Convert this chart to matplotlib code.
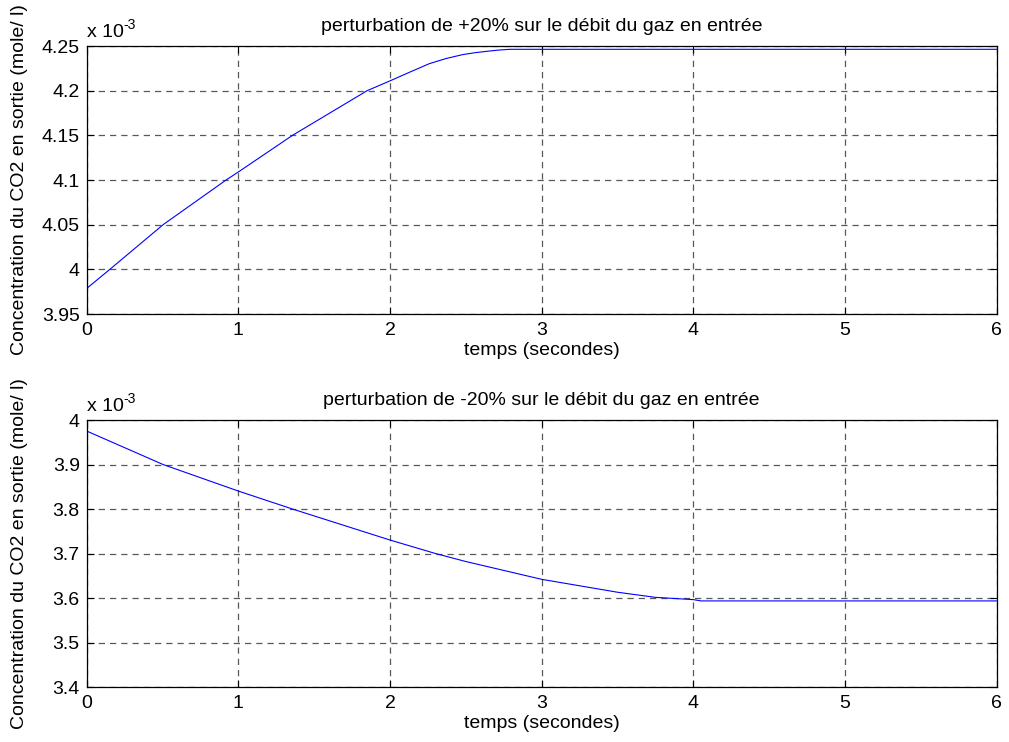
import matplotlib.pyplot as plt
from matplotlib.transforms import offset_copy

plt.rcParams['font.family'] = ['Liberation Sans', 'DejaVu Sans']

# Concentration du CO2 en sortie, en unites de 1e-3 mole/l
temps_plus = [0.0, 0.153, 0.504, 0.919, 1.0, 1.357, 1.849, 2.0, 2.12, 2.26, 2.37, 2.48,
              2.56, 2.64, 2.72, 2.79, 6.0]
conc_plus = [3.9786, 4.000, 4.050, 4.100, 4.109, 4.150, 4.200, 4.211, 4.220, 4.2303, 4.236,
             4.2404, 4.2425, 4.2441, 4.2455, 4.2463, 4.2463]

temps_moins = [0.0, 0.504, 1.0, 1.357, 2.0, 2.30, 2.5, 3.0, 3.5, 3.75, 4.0, 4.05, 6.0]
conc_moins = [3.9753, 3.900, 3.8404, 3.800, 3.7303, 3.700, 3.682, 3.642, 3.613, 3.6015,
              3.5964, 3.5935, 3.5935]

titres = ['perturbation de +20% sur le débit du gaz en entrée',
          'perturbation de -20% sur le débit du gaz en entrée']
ylims = [(3.95, 4.25), (3.4, 4.0)]
yticks = [[3.95, 4.0, 4.05, 4.1, 4.15, 4.2, 4.25], [3.4, 3.5, 3.6, 3.7, 3.8, 3.9, 4.0]]
yticklabels = [['3.95', '4', '4.05', '4.1', '4.15', '4.2', '4.25'],
               ['3.4', '3.5', '3.6', '3.7', '3.8', '3.9', '4']]

fs = 14

fig = plt.figure(figsize=(10.09, 7.42), dpi=100)
ax1 = fig.add_axes([0.0859, 0.5768, 0.9020, 0.3612])
ax2 = fig.add_axes([0.0859, 0.0741, 0.9020, 0.3598])

donnees = [(temps_plus, conc_plus), (temps_moins, conc_moins)]
for i, ax in enumerate([ax1, ax2]):
    t, c = donnees[i]
    ax.plot(t, c, color='#0000ff', linewidth=0.8)
    ax.set_xlim(0, 6)
    ax.set_ylim(*ylims[i])
    ax.set_xticks(range(7))
    ax.set_yticks(yticks[i])
    ax.set_yticklabels(yticklabels[i])
    ax.grid(True, color='0.35', linestyle=(0, (5, 4)), linewidth=0.9)
    ax.tick_params(direction='in', length=5, width=0.8, labelsize=fs,
                   top=True, right=True)
    ax.tick_params(axis='x', pad=6)
    ax.tick_params(axis='y', pad=5)
    for s in ax.spines.values():
        s.set_linewidth(0.9)
    ax.set_title(titres[i], fontsize=fs, pad=11)
    ax.set_xlabel('temps (secondes)', fontsize=fs, labelpad=2)
    ax.set_ylabel('Concentration du CO2 en sortie (mole/ l)', fontsize=fs)
    ax.yaxis.set_label_coords(-0.064, 0.5)
    # facteur d'echelle de l'axe y
    ax.text(0.0, 1.018, 'x 10', transform=ax.transAxes, fontsize=fs,
            ha='left', va='bottom')
    ax.text(0.0, 1.018, '-3', fontsize=fs * 0.72, ha='left', va='bottom',
            transform=offset_copy(ax.transAxes, fig=fig, x=37, y=9, units='dots'))

fig.savefig('out.png', dpi=100)
